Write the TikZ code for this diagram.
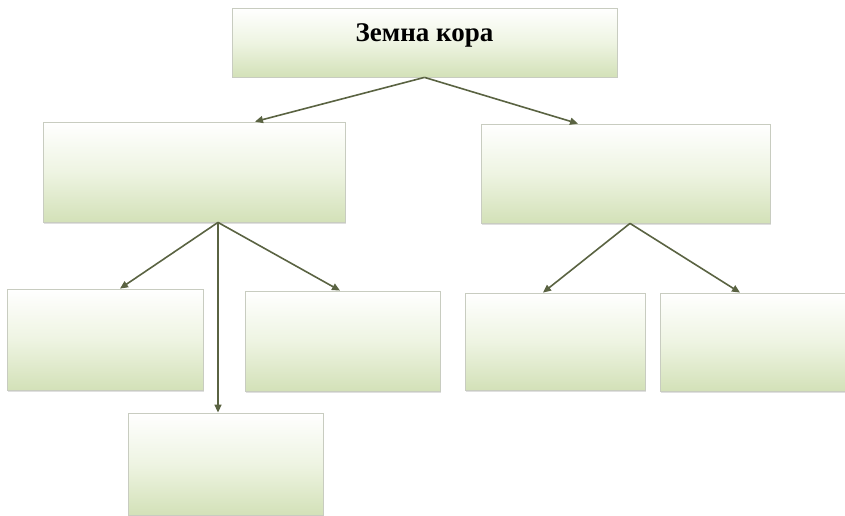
\documentclass[tikz,border=0pt]{standalone}
\usepackage{fontspec}
\setmainfont{Liberation Serif}
\usetikzlibrary{arrows.meta,shadows}
\definecolor{boxgreen}{HTML}{D3E1B8}
\definecolor{boxmid}{HTML}{EEF4E2}
\definecolor{boxline}{HTML}{C8CCC0}
\definecolor{arrowcol}{HTML}{5A6342}

\begin{document}
\begin{tikzpicture}[
    x=1pt, y=1pt,
    every node/.style={align=center},
    box/.style={draw=boxline, line width=0.8pt, rectangle, top color=white, bottom color=boxgreen, middle color=boxmid,
        drop shadow={shadow xshift=1pt, shadow yshift=-1.5pt, opacity=0.25}},
    arrow/.style={-{Triangle[length=8pt,width=7pt]}, line width=1.6pt, draw=arrowcol}
]
\useasboundingbox (0,0) rectangle (845,-516);

% Top level
\node[box, minimum width=385pt, minimum height=69pt, text depth=19pt,
      font=\bfseries\fontsize{27}{32}\selectfont] (crust) at (424.5,-42.5) {Земна кора};

% Second level
\node[box, minimum width=302pt, minimum height=100pt] (lmid) at (194,-172) {};
\node[box, minimum width=289pt, minimum height=99pt] (rmid) at (625.5,-173.5) {};

% Third level, left branch
\node[box, minimum width=196pt, minimum height=101pt] (la) at (105,-339.5) {};
\node[box, minimum width=195pt, minimum height=100pt] (lb) at (342.5,-341) {};
\node[box, minimum width=195pt, minimum height=102pt] (lc) at (225.5,-464) {};

% Third level, right branch
\node[box, minimum width=180pt, minimum height=97pt] (ra) at (555,-341.5) {};
\node[box, minimum width=185pt, minimum height=98pt] (rb) at (752.5,-342) {};

% Arrows from the top box
\draw[arrow] (crust.south) -- ([xshift=61pt]lmid.north);
\draw[arrow] (crust.south) -- ([xshift=-47.5pt]rmid.north);

% Arrows of the left branch
\draw[arrow] ([xshift=24pt]lmid.south) -- ([xshift=15pt]la.north);
\draw[arrow] ([xshift=24pt]lmid.south) -- ([xshift=-7.5pt]lc.north);
\draw[arrow] ([xshift=24pt]lmid.south) -- ([xshift=-2.5pt]lb.north);

% Arrows of the right branch
\draw[arrow] ([xshift=4.5pt]rmid.south) -- ([xshift=-12pt]ra.north);
\draw[arrow] ([xshift=4.5pt]rmid.south) -- ([xshift=-12.5pt]rb.north);

\end{tikzpicture}
\end{document}
